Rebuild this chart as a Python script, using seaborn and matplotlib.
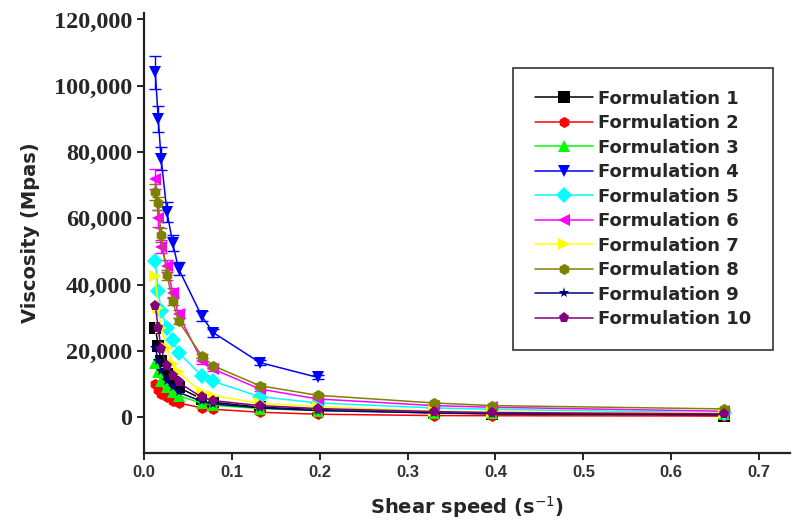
import numpy as np
import pandas as pd
import matplotlib
matplotlib.use('Agg')
import matplotlib.pyplot as plt
import seaborn as sns
from matplotlib.ticker import FuncFormatter

# Shear speed (s^-1) and viscosity readings
shear = [0.0132, 0.0165, 0.0198, 0.0264, 0.033, 0.0396, 0.066, 0.0792, 0.132, 0.198, 0.33, 0.396, 0.66]

f1 = [27000, 21500, 17000, 13000, 10500, 9000, 5500, 4500, 3000, 2300, 1300, 1000, 500]
f2 = [10000, 8200, 7000, 6000, 5000, 4300, 2800, 2400, 1500, 900, 500, 450, 350]
f3 = [16500, 13500, 11000, 9000, 7500, 6500, 4200, 3600, 2600, 2000, 1400, 1200, 900]
f4 = [104000, 90000, 78000, 62000, 52500, 44800, 30500, 25500, 16500, 12000]
f5 = [47000, 38000, 32000, 27000, 23200, 19500, 12500, 10800, 6200, 4300, 2800, 2400, 1300]
f6 = [72000, 60000, 51500, 45500, 37500, 31000, 17000, 14500, 8500, 5500, 3500, 3000, 1800]
f7 = [42500, 33000, 27000, 21000, 16000, 13500, 7500, 6500, 4200, 3200, 1800, 1600, 1200]
f8 = [68000, 64500, 55000, 43000, 35000, 29000, 18500, 15500, 9500, 6600, 4300, 3500, 2500]
f9 = [21000, 17000, 14000, 11000, 9000, 7500, 4800, 4000, 2800, 2000, 1300, 1100, 800]
f10 = [33500, 27000, 20500, 15500, 12500, 10500, 6000, 5000, 3500, 2600, 1700, 1400, 1000]

# error bars that are visible in the figure
err4 = [5000, 4000, 3500, 3000, 2500, 2000, 1500, 1200, 800, 600]
err6 = [3000, 2500, 2000, 1800, 1500, 1200, 800, 700, 500, 400, 300, 300, 200]
err8 = [2500, 2000, 2000, 1500, 1200, 1000, 700, 600, 400, 300, 300, 200, 200]

names = ['Formulation %d' % i for i in range(1, 11)]
series = [f1, f2, f3, f4, f5, f6, f7, f8, f9, f10]
colors = ['#000000', '#FF0000', '#00FF00', '#0000FF', '#00FFFF',
          '#FF00FF', '#FFFF00', '#808000', '#000080', '#800080']
markers = ['s', 'h', '^', 'v', 'D', '<', '>', 'h', '*', 'p']

rows = []
for name, vals in zip(names, series):
    for x, y in zip(shear, vals):
        rows.append({'Shear': x, 'Viscosity': y, 'Formulation': name})
df = pd.DataFrame(rows)

sns.set_style('ticks')
fig = plt.figure(figsize=(7.94, 5.24), dpi=100)
ax = fig.add_axes([0.181, 0.1355, 0.814, 0.84])

sns.lineplot(data=df, x='Shear', y='Viscosity', hue='Formulation', style='Formulation',
             hue_order=names, style_order=names,
             palette=dict(zip(names, colors)), markers=dict(zip(names, markers)),
             dashes=False, linewidth=1.1, markersize=8, markeredgewidth=0,
             legend=False, ax=ax, zorder=3)

for vals, err, c in [(f4, err4, colors[3]), (f6, err6, colors[5]), (f8, err8, colors[7])]:
    ax.errorbar(shear[:len(vals)], vals, yerr=err, fmt='none', ecolor=c,
                elinewidth=1, capsize=4, capthick=1, zorder=2)

ax.set_xlim(0, 0.735)
ax.set_ylim(-10800, 122000)
ax.set_xticks(np.arange(0, 0.71, 0.1))
ax.set_yticks(np.arange(0, 120001, 20000))
ax.yaxis.set_major_formatter(FuncFormatter(lambda v, p: '{:,.0f}'.format(v)))
ax.xaxis.set_major_formatter(FuncFormatter(lambda v, p: '%.1f' % v))

for s in ['top', 'right']:
    ax.spines[s].set_visible(False)
for s in ['left', 'bottom']:
    ax.spines[s].set_linewidth(1.6)
    ax.spines[s].set_color('#222222')
ax.tick_params(axis='both', direction='out', length=5, width=1.4, color='#222222')

for lab in ax.get_yticklabels():
    lab.set_fontfamily('Liberation Serif')
    lab.set_fontweight('bold')
    lab.set_fontsize(17.5)
for lab in ax.get_xticklabels():
    lab.set_fontfamily('Liberation Sans')
    lab.set_fontweight('bold')
    lab.set_fontsize(12)
    lab.set_color('#333333')

ax.set_xlabel('Shear speed (s$^{-1}$)', fontsize=14, fontweight='bold', family='DejaVu Sans', labelpad=10)
ax.set_ylabel('Viscosity (Mpas)', fontsize=14, fontweight='bold', family='DejaVu Sans', labelpad=10)

handles = [plt.Line2D([], [], color=c, marker=m, markersize=8, markeredgewidth=0, linewidth=1.1)
           for c, m in zip(colors, markers)]
leg = ax.legend(handles, names, loc='upper right', bbox_to_anchor=(0.974, 0.875),
                borderaxespad=0, frameon=True, fancybox=False, edgecolor='black',
                handlelength=3.2, labelspacing=0.36, borderpad=1.2, handletextpad=0.3,
                prop={'family': 'DejaVu Sans', 'weight': 'bold', 'size': 13})
leg.get_frame().set_linewidth(1.2)

fig.savefig('out.png', dpi=100)
